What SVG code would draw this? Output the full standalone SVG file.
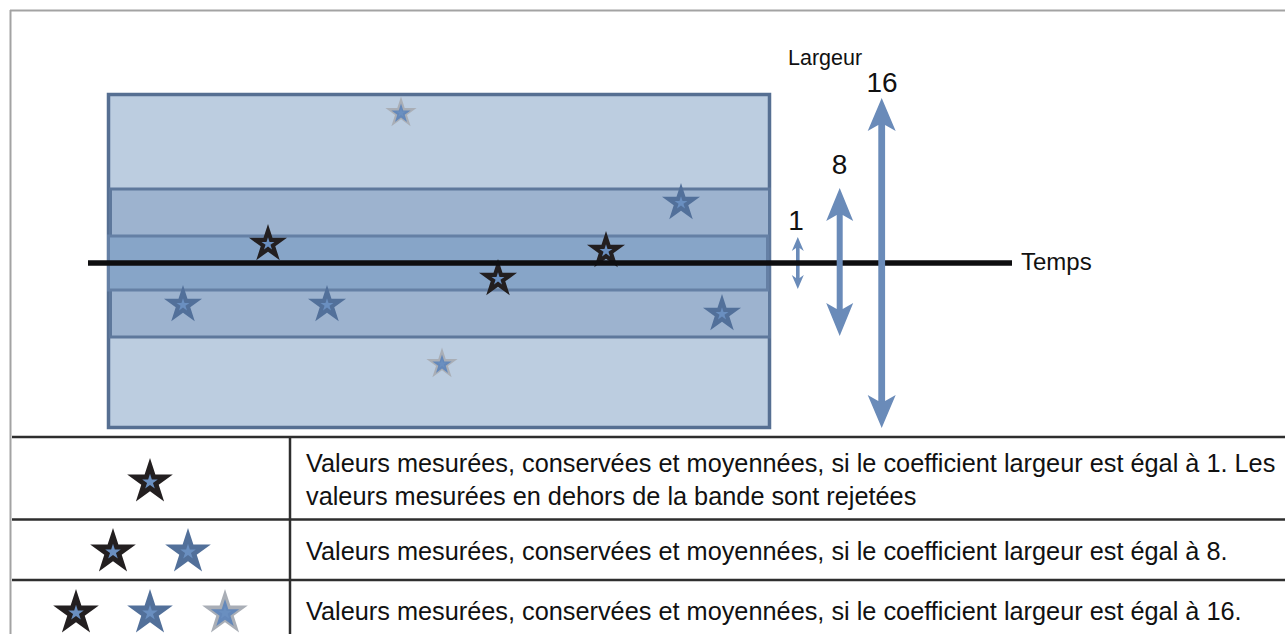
<svg xmlns="http://www.w3.org/2000/svg" xmlns:xlink="http://www.w3.org/1999/xlink" width="1285" height="634" viewBox="0 0 1285 634">
<style>
  text { font-family: "Liberation Sans", Arial, sans-serif; fill: #111; }
  .cell { font-size: 25.3px; }
  .num { font-size: 28px; text-anchor: middle; }
  .frame { stroke: #a3a3a3; stroke-width: 2; fill: none; }
  .grid { stroke: #2e2e2e; stroke-width: 2.5; fill: none; }
  .arrow { fill: #6a8bb9; }
  .blk { fill: #231f20; }
  .dkb { fill: #52709a; }
  .core { fill: #6a8fc0; }
</style>
<defs>
  <path id="star" d="M0,-20 L4.49,-6.18 L19.02,-6.18 L7.27,2.36 L11.76,16.18 L0,7.64 L-11.76,16.18 L-7.27,2.36 L-19.02,-6.18 L-4.49,-6.18 Z"/>
  <g id="sBlack"><use xlink:href="#star" href="#star" class="blk"/><use xlink:href="#star" href="#star" class="core" transform="scale(0.34)"/></g>
  <g id="sBlue"><use xlink:href="#star" href="#star" class="dkb"/><use xlink:href="#star" href="#star" class="core" transform="scale(0.34)"/></g>
  <g id="sGray"><use xlink:href="#star" href="#star" fill="#a9aeb6"/><use xlink:href="#star" href="#star" fill="#6488ba" transform="translate(0,0.8) scale(0.62)"/><use xlink:href="#star" href="#star" class="core" transform="scale(0.3)"/></g>
</defs>

<g id="frame">
  <line class="frame" x1="10" y1="10.5" x2="1285" y2="10.5"/>
  <line class="frame" x1="10.5" y1="10" x2="10.5" y2="634"/>
</g>

<g id="band-16">
  <rect x="108.5" y="94.5" width="661" height="333" fill="#bccde0" stroke="#566f92" stroke-width="3.5"/>
</g>
<g id="band-8">
  <rect x="110.5" y="189" width="659" height="148" fill="#9db3cf" stroke="#5e789c" stroke-width="3"/>
</g>
<g id="band-1">
  <rect x="108.5" y="236" width="659" height="54" fill="#87a5c8" stroke="#6580a5" stroke-width="3"/>
</g>

<g id="stars">
  <use xlink:href="#sGray" href="#sGray" transform="translate(401,113) scale(0.82)"/>
  <use xlink:href="#sGray" href="#sGray" transform="translate(442,364) scale(0.82)"/>
  <use xlink:href="#sBlue" href="#sBlue" transform="translate(681,203)"/>
  <use xlink:href="#sBlue" href="#sBlue" transform="translate(183,305)"/>
  <use xlink:href="#sBlue" href="#sBlue" transform="translate(327,305)"/>
  <use xlink:href="#sBlue" href="#sBlue" transform="translate(722,314)"/>
  <use xlink:href="#sBlack" href="#sBlack" transform="translate(268,244)"/>
  <use xlink:href="#sBlack" href="#sBlack" transform="translate(498,279)"/>
  <use xlink:href="#sBlack" href="#sBlack" transform="translate(606,251)"/>
</g>

<g id="connectors">
  <polygon id="arrow-1" class="arrow" points="797.8,237 803.8,251 799.6,248 799.6,278 803.8,275 797.8,289 791.8,275 796,278 796,248 791.8,251"/>
  <line id="time-axis" x1="88" y1="263" x2="1012" y2="263" stroke="#0e0e10" stroke-width="5.5"/>
  <polygon id="arrow-8" class="arrow" points="839.7,188 853.2,221 842.7,215 842.7,309 853.2,303 839.7,336 826.2,303 836.7,309 836.7,215 826.2,221"/>
  <polygon id="arrow-16" class="arrow" points="881.7,98 895.7,131 885.1,125 885.1,401 895.7,395 881.7,428 867.7,395 878.3,401 878.3,125 867.7,131"/>
</g>

<g id="labels">
  <text x="788" y="65" font-size="21.5">Largeur</text>
  <text class="num" x="882" y="92">16</text>
  <text class="num" x="839.5" y="174">8</text>
  <text class="num" x="796" y="230">1</text>
  <text x="1021" y="270" font-size="24">Temps</text>
</g>

<g id="table">
  <line class="grid" x1="12" y1="437" x2="1285" y2="437"/>
  <line class="grid" x1="12" y1="519.5" x2="1285" y2="519.5"/>
  <line class="grid" x1="12" y1="580" x2="1285" y2="580"/>
  <line class="grid" x1="290" y1="437" x2="290" y2="634"/>
</g>

<g id="legend-row-1">
  <use xlink:href="#sBlack" href="#sBlack" transform="translate(150,482) scale(1.2)"/>
  <text class="cell" x="306" y="472">Valeurs mesurées, conservées et moyennées, si le coefficient largeur est égal à 1. Les</text>
  <text class="cell" x="306" y="505">valeurs mesurées en dehors de la bande sont rejetées</text>
</g>
<g id="legend-row-2">
  <use xlink:href="#sBlack" href="#sBlack" transform="translate(113,552) scale(1.2)"/>
  <use xlink:href="#sBlue" href="#sBlue" transform="translate(188,552) scale(1.2)"/>
  <text class="cell" x="306" y="560">Valeurs mesurées, conservées et moyennées, si le coefficient largeur est égal à 8.</text>
</g>
<g id="legend-row-3">
  <use xlink:href="#sBlack" href="#sBlack" transform="translate(76,613) scale(1.2)"/>
  <use xlink:href="#sBlue" href="#sBlue" transform="translate(150,613) scale(1.2)"/>
  <use xlink:href="#sGray" href="#sGray" transform="translate(225,613) scale(1.2)"/>
  <text class="cell" x="306" y="620">Valeurs mesurées, conservées et moyennées, si le coefficient largeur est égal à 16.</text>
</g>
</svg>
